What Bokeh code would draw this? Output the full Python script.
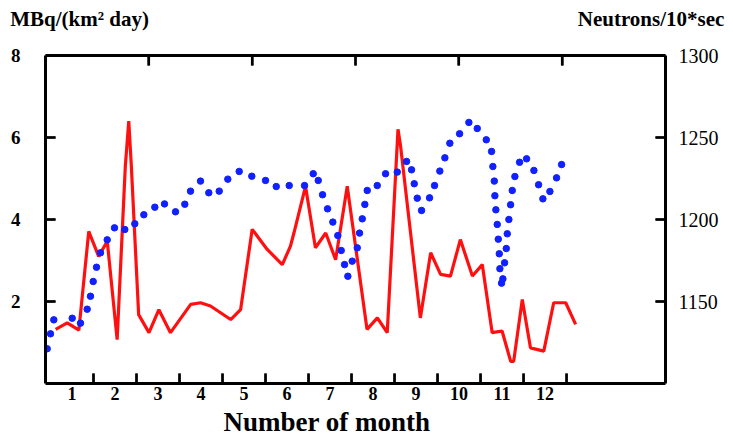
from bokeh.plotting import figure
from bokeh.models import Range1d, LinearAxis, FixedTicker, Title
from bokeh.embed import file_html
from bokeh.resources import INLINE

# ---------------- data ----------------
month_ticks = list(range(1, 13))
month_label_pos = [m - 0.5 for m in month_ticks]
month_labels = [str(m) for m in month_ticks]
left_ticks = [2, 4, 6, 8]
right_ticks = [1150, 1200, 1250, 1300]
top_ticks = [1, 2, 3, 4, 5]
unit_captions = ["MBq/(km² day)", "Neutrons/10*sec"]

# Deposition, MBq/(km2 day)  (x in months)
red_x = [0.12, 0.39, 0.66, 0.89, 1.12, 1.32, 1.55, 1.74, 1.82, 1.88, 2.05, 2.29,
         2.52, 2.79, 3.26, 3.49, 3.72, 4.19, 4.42, 4.69, 5.04, 5.39, 5.58, 5.66,
         5.93, 6.16, 6.40, 6.63, 6.90, 7.36, 7.60, 7.83, 8.08, 8.14, 8.60, 8.84,
         9.07, 9.30, 9.53, 9.81, 10.04, 10.27, 10.50, 10.70, 10.77, 10.97, 11.16,
         11.47, 11.70, 11.98, 12.21]
red_y = [1.32, 1.48, 1.30, 3.71, 3.10, 3.47, 1.07, 5.30, 6.40, 5.30, 1.68, 1.24,
         1.80, 1.24, 1.93, 1.97, 1.89, 1.56, 1.80, 3.76, 3.27, 2.90, 3.35, 3.67,
         4.81, 3.31, 3.67, 3.02, 4.81, 1.32, 1.60, 1.24, 6.20, 5.79, 1.60, 3.19,
         2.66, 2.62, 3.51, 2.62, 2.90, 1.24, 1.28, 0.54, 0.54, 2.05, 0.87,
         0.79, 1.97, 1.97, 1.44]

# Neutron monitor counts, Neutrons/10*sec  (x in months)
blue_x = [-0.077, 0.000, 0.077, 0.505, 0.698, 0.853, 0.930, 0.993, 1.070, 1.163,
          1.319, 1.488, 1.728, 1.960, 2.170, 2.426, 2.651, 2.907, 3.123, 3.256,
          3.488, 3.681, 3.923, 4.123, 4.388, 4.681, 5.000, 5.249, 5.551, 5.907,
          6.109, 6.226, 6.326, 6.442, 6.565, 6.681, 6.760, 6.837, 6.914, 7.016,
          7.133, 7.186, 7.249, 7.309, 7.365, 7.598, 7.791, 8.063, 8.279, 8.395,
          8.458, 8.528, 8.628, 8.814, 8.930, 9.053, 9.170, 9.286, 9.512, 9.728,
          9.923, 10.133, 10.256, 10.286, 10.319, 10.333, 10.356, 10.388, 10.412,
          10.435, 10.449, 10.488, 10.519, 10.558, 10.598, 10.621, 10.658, 10.698,
          10.737, 10.798, 10.907, 11.070, 11.240, 11.349, 11.449, 11.612, 11.767,
          11.884]
blue_y = [1121.2, 1130.3, 1138.8, 1139.8, 1136.8, 1145.3, 1153.2, 1162.2, 1170.9, 1179.7,
          1187.6, 1194.9, 1193.9, 1197.4, 1202.9, 1207.5, 1209.5, 1204.7, 1209.3, 1217.3,
          1223.4, 1216.3, 1217.3, 1224.6, 1229.3, 1226.4, 1223.8, 1220.1, 1220.7, 1220.7,
          1227.9, 1223.8, 1215.1, 1206.5, 1198.4, 1190.2, 1181.1, 1172.5, 1165.4, 1174.6,
          1182.7, 1191.7, 1200.4, 1209.2, 1217.7, 1220.7, 1227.9, 1228.9, 1235.4, 1230.3,
          1221.8, 1213.0, 1205.5, 1213.2, 1220.7, 1229.5, 1237.6, 1246.5, 1252.3, 1259.2,
          1255.5, 1248.6, 1241.5, 1232.3, 1223.4, 1214.5, 1205.9, 1197.0, 1188.0,
          1179.1, 1170.0, 1161.2, 1163.8, 1173.6, 1182.3, 1191.3, 1200.0, 1209.0,
          1217.7, 1226.2, 1234.9, 1237.0, 1229.9, 1221.2, 1212.6, 1217.1, 1225.4,
          1233.5]

SERIF = "Liberation Serif"
X_START, X_END = -0.116, 14.30
Y_START, Y_END = 0, 8
N_START, N_END = 1100, 1300
T_START, T_END = 0, 6
FRAME_W, FRAME_H = 620, 328      # plot-area size in pixels
TICK_PX = 10                     # inward tick length in pixels

p = figure(width=733, height=442, output_backend="svg", toolbar_location=None,
           x_range=Range1d(X_START, X_END), y_range=Range1d(Y_START, Y_END),
           min_border_left=45, min_border_right=68, min_border_top=55,
           min_border_bottom=59)
p.xgrid.grid_line_color = None
p.ygrid.grid_line_color = None
p.outline_line_color = None

p.extra_y_ranges = {"n": Range1d(N_START, N_END)}
p.extra_x_ranges = {"top": Range1d(T_START, T_END)}

# bottom axis: month numbers centred in each month, marks at month boundaries
xa = p.xaxis[0]
xa.ticker = FixedTicker(ticks=month_label_pos, minor_ticks=month_ticks)
xa.major_label_overrides = {pos: lab for pos, lab in zip(month_label_pos, month_labels)}
xa.major_tick_in = 0
xa.major_tick_out = 0
xa.minor_tick_in = 10
xa.minor_tick_out = 0
xa.minor_tick_line_width = 2
xa.minor_tick_line_color = "black"
xa.axis_line_width = 3
xa.axis_line_color = "black"
xa.major_label_text_font = SERIF
xa.major_label_text_font_style = "bold"
xa.major_label_text_font_size = "18px"
xa.major_label_text_color = "black"
xa.major_label_standoff = 3

p.add_layout(Title(text="Number of month", align="left", offset=178,
                   text_font=SERIF, text_font_style="bold", text_font_size="27px",
                   text_color="black", standoff=5), "below")

ya = p.yaxis[0]
ya.ticker = FixedTicker(ticks=left_ticks)
ya.major_tick_in = 10
ya.major_tick_out = 0
ya.major_tick_line_width = 2
ya.major_tick_line_color = "black"
ya.minor_tick_line_color = None
ya.axis_line_width = 3
ya.axis_line_color = "black"
ya.major_label_text_font = SERIF
ya.major_label_text_font_style = "bold"
ya.major_label_text_font_size = "19px"
ya.major_label_text_color = "black"
ya.major_label_standoff = 25

ra = LinearAxis(y_range_name="n", ticker=FixedTicker(ticks=right_ticks))
ra.major_tick_in = 10
ra.major_tick_out = 0
ra.major_tick_line_width = 2
ra.major_tick_line_color = "black"
ra.minor_tick_line_color = None
ra.axis_line_width = 3
ra.axis_line_color = "black"
ra.major_label_text_font = SERIF
ra.major_label_text_font_size = "20px"
ra.major_label_text_color = "black"
ra.major_label_standoff = 13
p.add_layout(ra, "right")

# top axis: inward marks, and the two unit captions carried as its labels
caption_pos = [0.33, 5.86]
ta = LinearAxis(x_range_name="top",
                ticker=FixedTicker(ticks=caption_pos, minor_ticks=top_ticks))
ta.major_label_overrides = {pos: lab for pos, lab in zip(caption_pos, unit_captions)}
ta.major_tick_in = 0
ta.major_tick_out = 0
ta.minor_tick_in = 10
ta.minor_tick_out = 0
ta.minor_tick_line_width = 2
ta.minor_tick_line_color = "black"
ta.axis_line_width = 3
ta.axis_line_color = "black"
ta.major_label_text_font = SERIF
ta.major_label_text_font_style = "bold"
ta.major_label_text_font_size = "21px"
ta.major_label_text_color = "black"
ta.major_label_standoff = 25
p.add_layout(ta, "above")

# inward tick marks drawn as short segments from each frame edge
dy = (Y_END - Y_START) * TICK_PX / FRAME_H
dn = (N_END - N_START) * TICK_PX / FRAME_H
dx = (X_END - X_START) * TICK_PX / FRAME_W
seg = dict(line_color="black", line_width=2.5)
p.segment(x0=month_ticks, y0=[Y_START] * 12, x1=month_ticks, y1=[Y_START + dy] * 12, **seg)
p.segment(x0=top_ticks, y0=[Y_END] * 5, x1=top_ticks, y1=[Y_END - dy] * 5,
          x_range_name="top", **seg)
p.segment(x0=[X_START] * 3, y0=left_ticks[:3], x1=[X_START + dx] * 3, y1=left_ticks[:3], **seg)
p.segment(x0=[X_END - dx] * 3, y0=right_ticks[:3], x1=[X_END] * 3, y1=right_ticks[:3],
          y_range_name="n", **seg)

# data
p.line(red_x, red_y, line_color="#ff1010", line_width=3.2)
p.scatter(blue_x, blue_y, y_range_name="n", size=6.5, marker="circle",
          fill_color="#1020ff", line_color="#1020ff")

open("out.html", "w").write(file_html(p, INLINE))
